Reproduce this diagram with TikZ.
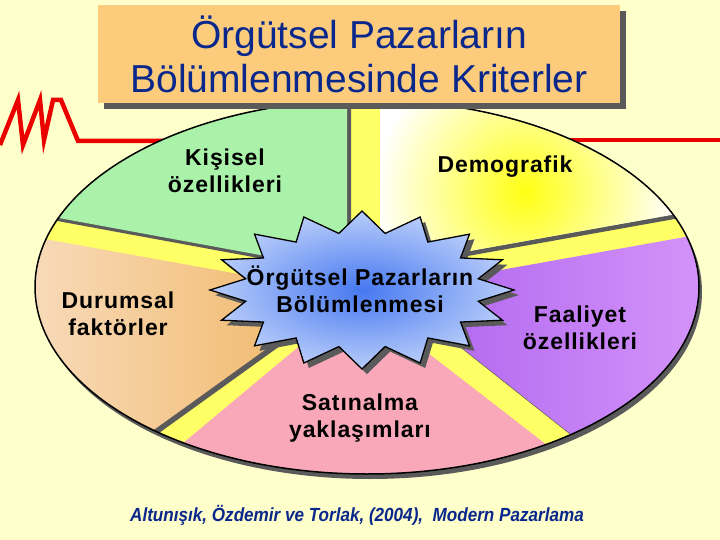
\documentclass[tikz,border=0pt]{standalone}
\usepackage{fontspec}
\setmainfont{Liberation Sans}
\newfontfamily\lblfont[LetterSpace=4]{Liberation Sans}
\usepackage{tikz}
\usetikzlibrary{positioning, shadows}

\definecolor{bgyellow}{RGB}{255,255,204}
\definecolor{bandyellow}{RGB}{255,255,102}
\definecolor{shadowgray}{RGB}{90,90,90}
\definecolor{titleorange}{RGB}{252,204,124}
\definecolor{titleblue}{RGB}{10,40,140}
\definecolor{linered}{RGB}{235,0,0}
\definecolor{kisiselgreen}{RGB}{170,242,170}
\definecolor{durumlight}{RGB}{250,228,208}
\definecolor{durumdeep}{RGB}{240,180,96}
\definecolor{faallight}{RGB}{222,160,252}
\definecolor{faaldeep}{RGB}{172,96,238}
\definecolor{satinpink}{RGB}{248,168,184}
\definecolor{stardeep}{RGB}{70,120,240}
\definecolor{starlight}{RGB}{185,205,250}
\definecolor{demoyellow}{RGB}{255,255,20}

% sector outlines (image coordinates, y downwards)
\newcommand{\kisiselpoly}{(-50,-50) -- (347,-50) -- (347,271) -- (-50,198) -- cycle}
\newcommand{\demopoly}{(380,-50) -- (760,-50) -- (760,199) -- (380,267) -- cycle}
\newcommand{\faalpoly}{(389,290) -- (780,220) -- (780,600) -- cycle}
\newcommand{\satinpoly}{(357,298) -- (747,600) -- (-5,600) -- cycle}
\newcommand{\durumpoly}{(344,293) -- (-50,222) -- (-50,560) -- (-27,560) -- cycle}
\newcommand{\starpath}{(514,290) \foreach \i in {1,...,31}{ -- ({362+152*cos(\i*11.25)*(1-0.22*mod(\i,2))},{290+79*sin(\i*11.25)*(1-0.27*mod(\i,2))}) } -- cycle}

\begin{document}
\begin{tikzpicture}[
  x=1pt, y=-1pt,
  redline/.style={linered, line width=4.5pt, line join=miter},
  titlebox/.style={
    rectangle, fill=titleorange, minimum width=522pt, minimum height=98pt,
    inner sep=0pt, align=center, text=titleblue,
    font=\fontsize{39}{44}\selectfont,
    drop shadow={shadow xshift=6pt, shadow yshift=-6pt, opacity=1, fill=shadowgray}
  },
  seglabel/.style={align=center, text=black, font=\lblfont\bfseries\fontsize{23}{27}\selectfont},
  source/.style={text=titleblue, font=\fontsize{19}{21}\selectfont\bfseries\itshape}
]
\useasboundingbox (0,0) rectangle (720,540);
\fill[bgyellow] (0,0) rectangle (720,540);

% Red lines behind the ellipse
\draw[redline] (0,145) -- (18,100) -- (23,145) -- (40,100) -- (44,140) -- (53,100)
  -- (61,100) -- (78,141) -- (170,141);
\draw[redline] (560,140) -- (720,140);

% Ellipse base
\fill[shadowgray] (370,292) ellipse (332 and 187);
\fill[bandyellow] (367,287) ellipse (332 and 187);

% Sectors
\begin{scope}
  \clip (367,287) ellipse (332 and 187);
  \begin{scope}[shift={(4,4)}]
    \fill[shadowgray] \kisiselpoly;
    \fill[shadowgray] \demopoly;
    \fill[shadowgray] \faalpoly;
    \fill[shadowgray] \satinpoly;
    \fill[shadowgray] \durumpoly;
  \end{scope}
  \fill[kisiselgreen] \kisiselpoly;
  \fill[white] \demopoly;
  \begin{scope}
    \clip \demopoly;
    \shade[inner color=demoyellow, outer color=white] (525,192) circle (150);
  \end{scope}
  \shade[left color=faaldeep, right color=faallight] \faalpoly;
  \fill[satinpink] \satinpoly;
  \shade[left color=durumlight, right color=durumdeep] \durumpoly;
\end{scope}
\draw[line width=1.5pt] (367,287) ellipse (332 and 187);

% Centre star
\fill[shadowgray, shift={(5,5)}] \starpath;
\shade[inner color=stardeep, outer color=starlight] \starpath;
\draw[line width=1.3pt, line join=miter] \starpath;

% Title
\node[titlebox] (title) at (359,54) {Örgütsel Pazarların\\Bölümlenmesinde Kriterler};

% Sector labels
\node[seglabel] (kisisel) at (225,171) {Kişisel\\özellikleri};
\node[seglabel] (demografik) at (505,167) {Demografik};
\node[seglabel] (durumsal) at (118,314) {Durumsal\\faktörler};
\node[seglabel] (merkez) at (360,289) {Örgütsel Pazarların\\Bölümlenmesi};
\node[seglabel] (faaliyet) at (580,328) {Faaliyet\\özellikleri};
\node[seglabel] (satinalma) at (360,418) {Satınalma\\yaklaşımları};

% Source
\node[source] (kaynak) at (357,515) {\scalebox{0.9}[1]{Altunışık, Özdemir ve Torlak, (2004),\ \ Modern Pazarlama}};

\end{tikzpicture}
\end{document}
